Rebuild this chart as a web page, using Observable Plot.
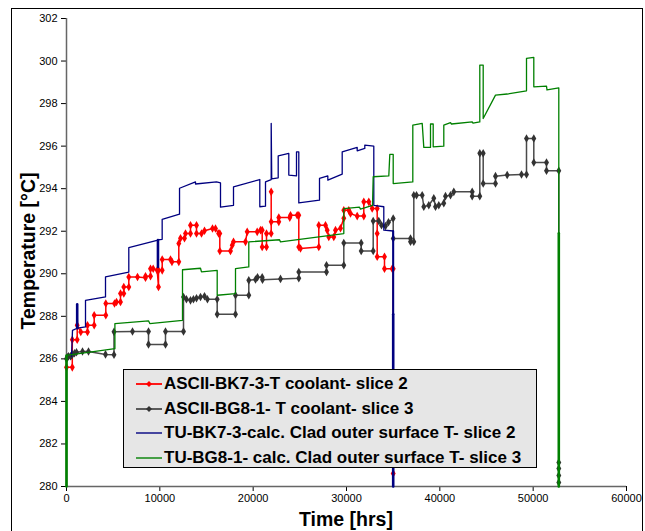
<!DOCTYPE html>
<html>
<head>
<meta charset="utf-8">
<script src="https://cdn.jsdelivr.net/npm/d3@7"></script>
<script src="https://cdn.jsdelivr.net/npm/@observablehq/plot@0.6"></script>
<style>
  html, body { margin: 0; padding: 0; background: #fff; }
  #wrap { position: relative; width: 645px; height: 531px; overflow: hidden;
          font-family: "Liberation Sans", Arial, sans-serif; color: #000; }
  #frame { position: absolute; left: 11px; top: 8px; width: 632px; height: 620px;
           border: 1px solid #000; box-sizing: border-box; }
  #chart { position: absolute; left: 0; top: 0; }
  .title { position: absolute; font-weight: bold; font-size: 19.5px; white-space: nowrap; }
  #ytitle { left: 28px; top: 251px; transform: translate(-50%, -50%) rotate(-90deg); }
  #xtitle { left: 346px; top: 519px; transform: translate(-50%, -50%); }
  #legend { position: absolute; left: 123px; top: 369px; width: 414px; height: 99px;
            background: #e6e6e6; border: 1px solid #000; box-sizing: border-box; }
  .row { position: absolute; left: 12px; height: 24px; display: flex; align-items: center;
         font-weight: bold; font-size: 17px; white-space: nowrap; }
  .row svg { margin-right: 2px; }
</style>
</head>
<body>
<div id="wrap">
  <div id="frame"></div>
  <div id="chart"></div>
  <div class="title" id="ytitle">Temperature [°C]</div>
  <div class="title" id="xtitle">Time [hrs]</div>
  <div id="legend"></div>
</div>
<script>
// Axis ticks
const xTicks = [0, 10000, 20000, 30000, 40000, 50000, 60000];
const yTicks = [280, 282, 284, 286, 288, 290, 292, 294, 296, 298, 300, 302];

// Series names
const seriesNames = [
  "ASCII-BK7-3-T coolant- slice 2",
  "ASCII-BG8-1- T coolant- slice 3",
  "TU-BK7-3-calc. Clad outer surface T- slice 2",
  "TU-BG8-1- calc. Clad outer surface T- slice 3"
];

// [time (hrs), temperature (°C)]
const bk7Coolant = [
  [0,285.6],[621,285.6],[621,286.9],[1146,286.9],[1146,287.58],[1532,287.26],[2250,287.26],
  [2250,287.58],[2968,287.58],[2968,288.05],[4211,288.05],[4211,288.6],[5143,288.6],[5357,288.67],
  [5786,288.67],[5786,289.07],[6139,289.07],[6139,289.38],[6675,289.38],[6675,289.85],[7607,289.85],
  [8464,289.81],[8464,289.88],[9000,289.88],[9000,290.24],[9289,290.24],[9718,290.16],[9857,289.38],
  [9857,290.16],[10254,290.16],[10254,290.67],[11143,290.67],[11300,290.56],[12032,290.56],
  [12032,291.42],[12214,291.67],[12643,291.67],[12750,291.89],[13286,291.89],[13286,292.28],
  [13929,292.28],[13929,291.89],[14464,291.89],[14786,292.02],[15643,292.13],[15964,292.13],
  [16300,291.89],[16425,291.89],[16425,291.07],[17571,291.07],[17754,291.34],[17893,291.5],
  [19179,291.5],[19361,291.97],[20432,291.97],[20786,292.05],[20968,292.05],[20968,291.26],
  [21429,291.26],[21429,291.89],[21932,291.89],[21932,293.85],[21932,292.44],[22746,292.44],
  [22746,292.64],[23925,292.64],[24000,292.75],[24718,292.75],[24889,292.75],[24889,291.26],
  [25071,291.19],[27032,291.26],[27032,292.28],[27750,292.28],[27932,292.05],[28104,291.73],
  [28639,291.73],[28821,292.05],[29357,292.14],[29711,292.61],[29711,292.99],[30246,292.99],
  [30429,292.83],[31146,292.71],[31854,292.71],[31854,293.38],[32389,293.38],[32754,293.07],
  [33289,293.07],[33289,291.89],[33289,290.8],[34071,290.8],[34071,290.24],[34896,290.24],
  [35004,290.24],[35004,280.61]
];

const bg8Coolant = [
  [0,286.0],[107,286.07],[214,286.12],[429,286.12],[536,286.16],[643,286.21],[857,286.26],
  [1071,286.31],[1714,286.35],[2357,286.35],[4179,286.21],[5089,286.19],[5089,287.27],
  [7071,287.29],[8786,287.29],[8786,286.68],[10607,286.68],[10607,287.29],[12536,287.29],
  [12536,288.91],[12850,288.8],[13286,288.75],[13600,288.8],[13929,288.85],[14357,288.91],
  [14786,288.94],[15100,288.8],[16146,288.8],[16146,288.1],[18107,288.1],[18107,288.99],
  [19532,288.99],[19532,289.69],[20250,289.73],[20464,289.84],[20968,289.84],[21000,289.72],
  [22929,289.76],[24889,289.79],[24889,290.08],[27857,290.08],[27857,290.4],[29711,290.4],
  [29711,291.45],[31575,291.45],[31575,291.07],[32861,291.07],[32861,292.48],[33461,292.48],
  [33750,292.28],[34179,292.24],[34500,292.42],[35004,292.6],[35004,291.66],[36857,291.66],
  [36857,291.51],[37211,291.51],[37211,293.69],[37500,293.69],[38111,293.69],[38282,293.15],
  [38818,293.22],[39354,293.55],[39536,293.15],[39889,293.22],[40425,293.32],[40607,293.65],
  [41143,293.69],[41496,293.85],[43468,293.85],[43468,293.65],[44282,293.65],[44282,295.66],
  [44646,295.66],[44646,294.24],[45964,294.24],[45964,294.59],[47218,294.64],[48750,294.67],
  [49286,294.67],[49286,296.36],[50068,296.36],[50068,295.23],[51429,295.23],[51429,294.84],
  [52746,294.84],[52746,281.13],[52746,280.85],[52746,280.52],[52746,280.19]
];

const bk7Clad = [
  [536,286.12],[643,287.34],[1146,287.44],[1146,288.56],[1179,287.44],[2036,287.5],[2036,288.75],
  [4179,288.91],[4179,289.85],[6675,290.08],[6675,291.23],[9800,291.58],[9800,290.32],
  [9800,291.6],[10250,291.62],[10250,292.56],[12110,292.8],[12110,294.02],[13821,294.32],
  [13821,294.22],[16071,294.32],[16500,294.27],[16500,293.13],[17893,293.22],[17893,294.08],
  [20711,294.43],[20711,293.15],[21321,293.18],[21321,294.32],[21932,294.43],[21932,297.07],
  [21990,294.46],[22682,294.51],[22682,295.54],[23818,295.66],[23818,294.64],[24643,294.6],
  [24643,295.73],[24889,295.73],[24889,293.33],[27107,293.46],[27107,294.48],[28000,294.6],
  [28000,294.4],[29539,294.68],[29539,295.73],[31146,295.94],[31146,295.78],[31961,295.89],
  [31961,296.05],[32925,296.0],[32925,293.22],[33996,293.15],[33996,292.05],[35004,292.01],
  [35004,280]
];

const bg8Clad = [
  [0,280],[0,286.16],[5186,286.48],[5186,287.66],[8786,287.79],[8925,287.66],[12429,287.81],
  [12429,290.19],[14357,290.26],[14464,290.09],[16146,290.16],[16146,288.99],[18107,289.07],
  [18107,290.24],[19532,290.32],[19532,291.5],[22821,291.6],[22929,291.5],[29711,291.89],
  [29711,293.06],[31393,293.13],[31500,293.04],[32786,293.22],[32861,294.56],[34532,294.6],
  [34639,295.61],[35004,295.61],[35004,294.24],[37104,294.32],[37104,296.99],[38111,297.07],
  [38282,295.94],[39000,295.94],[39000,297.04],[39289,297.04],[39289,295.97],[40425,296.0],
  [40425,296.99],[41143,297.1],[41250,297.04],[43468,297.14],[43554,297.08],[44282,297.14],
  [44282,299.81],[44646,299.81],[44646,297.3],[45964,298.4],[47218,298.45],[49286,298.6],
  [49286,300.13],[50068,300.17],[50068,298.79],[51429,298.82],[51482,298.64],[52746,298.74],
  [52746,280]
];

// Repeated (overdrawn) vertical stretches of the calculated curves, which render heavier
const bk7CladHeavy = [[[1146,287.44],[1146,288.56]], [[9800,291.58],[9800,290.32]], [[35004,288.1],[35004,280]]];
const bg8CladHeavy = [[[0,286.16],[0,280]], [[52746,291.9],[52746,280]]];
// Final shutdown drop of the slice-2 clad curve, overlying the coolant reading beneath it
const bk7CladDrop = [[35004,292.01],[35004,288.1]];

const colors = ["#ff0000", "#333333", "#000080", "#008000"];
const lineColors = ["#ff0000", "#4a4a4a", "#000080", "#008000"];
const hasMarkers = [true, true, false, false];

const toRows = (arr) => arr.map(([t, v]) => ({t, v}));
const series = [bk7Coolant, bg8Coolant, bk7Clad, bg8Clad].map(toRows);
const heavy = [null, null, bk7CladHeavy, bg8CladHeavy];

const marks = [
  Plot.axisX({ticks: xTicks, tickSize: 5, tickPadding: 3, tickFormat: d3.format("d"), label: null}),
  Plot.axisY({ticks: yTicks, tickSize: 5, tickPadding: 4, label: null}),
  Plot.ruleX([0], {stroke: "#666", strokeWidth: 1.5}),
  Plot.ruleY([280], {stroke: "#666", strokeWidth: 1.5})
];
series.forEach((rows, i) => {
  marks.push(Plot.line(rows, {x: "t", y: "v", stroke: lineColors[i],
    strokeWidth: hasMarkers[i] ? 1.5 : 1.3, curve: "linear"}));
  if (hasMarkers[i]) {
    marks.push(Plot.dot(rows, {x: "t", y: "v", symbol: "diamond", r: 2.6,
      fill: colors[i], stroke: "none"}));
  }
  if (heavy[i]) {
    heavy[i].forEach(seg => marks.push(Plot.line(toRows(seg),
      {x: "t", y: "v", stroke: lineColors[i], strokeWidth: 2.6})));
  }
  if (i === 2) {
    marks.push(Plot.line(toRows(bk7CladDrop), {x: "t", y: "v", stroke: lineColors[i], strokeWidth: 2}));
  }
});

const chart = Plot.plot({
  width: 645, height: 531,
  marginLeft: 66, marginRight: 19, marginTop: 18, marginBottom: 45,
  style: {background: "transparent", fontFamily: "'Liberation Sans', Arial, sans-serif",
          fontSize: "11px", color: "#000"},
  x: {domain: [0, 60000]},
  y: {domain: [280, 302]},
  marks
});
document.getElementById("chart").appendChild(chart);

// Legend
const legend = document.getElementById("legend");
const rowTops = [2, 27, 51, 76];
seriesNames.forEach((name, i) => {
  const row = document.createElement("div");
  row.className = "row";
  row.style.top = rowTops[i] + "px";
  const ns = "http://www.w3.org/2000/svg";
  const svg = document.createElementNS(ns, "svg");
  svg.setAttribute("width", 26); svg.setAttribute("height", 10);
  const ln = document.createElementNS(ns, "line");
  ln.setAttribute("x1", 0); ln.setAttribute("x2", 26);
  ln.setAttribute("y1", 5); ln.setAttribute("y2", 5);
  ln.setAttribute("stroke", lineColors[i]);
  ln.setAttribute("stroke-width", hasMarkers[i] ? 1.8 : 1.4);
  svg.appendChild(ln);
  if (hasMarkers[i]) {
    const d = document.createElementNS(ns, "path");
    d.setAttribute("d", "M13,2 L16,5 L13,8 L10,5 Z");
    d.setAttribute("fill", colors[i]);
    svg.appendChild(d);
  }
  row.appendChild(svg);
  const txt = document.createElement("span");
  txt.textContent = name;
  row.appendChild(txt);
  legend.appendChild(row);
});
</script>
</body>
</html>
